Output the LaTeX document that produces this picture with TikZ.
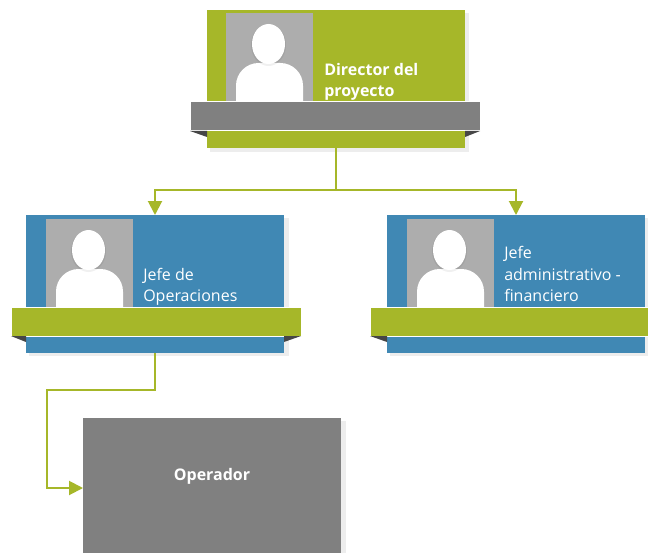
\documentclass[tikz,border=0pt]{standalone}
\usepackage{fontspec}
\setmainfont{Open Sans}
\usetikzlibrary{arrows.meta}
\definecolor{cgreen}{RGB}{166,183,41}
\definecolor{cblue}{RGB}{64,136,180}
\definecolor{cband}{RGB}{128,128,128}
\definecolor{cphoto}{RGB}{173,173,173}
\definecolor{cfold}{RGB}{70,70,70}
\begin{document}
\begin{tikzpicture}[x=0.75pt,y=-0.75pt,
  card/.style={anchor=north west,inner sep=0pt,outer sep=0pt,minimum width=193.5pt,minimum height=103.5pt},
  band/.style={anchor=north west,inner sep=0pt,outer sep=0pt,minimum width=217.5pt,minimum height=21.75pt,draw=white,line width=0.75pt},
  photo/.style={anchor=north west,inner sep=0pt,outer sep=0pt,minimum width=65.25pt,minimum height=67.5pt,fill=cphoto},
  lbl/.style={anchor=south west,inner sep=0pt,align=left,text=white,font=\fontsize{12}{16}\selectfont},
  conn/.style={draw=cgreen,line width=1.5pt,-{Triangle[length=10.5pt,width=10.5pt]}},
  shade/.style={fill=black,opacity=0.07},
  fold/.style={fill=cfold},
  person/.pic={
    \fill[white] (10,92) [rounded corners=17]-- (10,50) -- (77,50) [sharp corners]-- (77,92) -- cycle;
    \fill[black,opacity=0.06] (42.5,32) ellipse (17.5 and 21);
    \fill[white] (42.5,31) ellipse (16.5 and 20);
  }]
\useasboundingbox (0,0) rectangle (648,552);
\clip (0,0) rectangle (648,552);
\fill[white] (0,0) rectangle (648,552);

% ---- Director
\fill[shade] (210,13) rectangle (469,152);
\node[card,fill=cgreen] (dir) at (207,10) {};
\node[photo] (dirph) at (226,13) {};
\pic at (dirph.north west) {person};
\node[lbl,font=\fontsize{12}{16}\selectfont\bfseries] (dirtx) at (324,101) {Director del\\proyecto};
\node[band,fill=cband] (dirband) at (190,102) {};
\fill[fold] (dirband.south west) -- (dir.west |- dirband.south) -- ++(0,6) -- cycle;
\fill[fold] (dirband.south east) -- (dir.east |- dirband.south) -- ++(0,6) -- cycle;

% ---- Jefe de Operaciones
\fill[shade] (29,218) rectangle (289,356);
\node[card,fill=cblue] (jop) at (26,215) {};
\node[photo] (jopph) at (46,219) {};
\pic at (jopph.north west) {person};
\node[lbl] (joptx) at (143,306) {Jefe de\\Operaciones};
\node[band,fill=cgreen] (jopband) at (11,307) {};
\fill[fold] (jopband.south west) -- (jop.west |- jopband.south) -- ++(0,6) -- cycle;
\fill[fold] (jopband.south east) -- (jop.east |- jopband.south) -- ++(0,6) -- cycle;

% ---- Jefe administrativo - financiero
\fill[shade] (390,218) rectangle (649,356);
\node[card,fill=cblue] (jaf) at (387,215) {};
\node[photo] (jafph) at (407,219) {};
\pic at (jafph.north west) {person};
\node[lbl] (jaftx) at (504,302) {Jefe\\administrativo -\\financiero};
\node[band,fill=cgreen] (jafband) at (370,307) {};
\fill[fold] (jafband.south west) -- (jaf.west |- jafband.south) -- ++(0,6) -- cycle;

% ---- Operador
\fill[shade] (87,421) rectangle (346,560);
\node[anchor=north west,inner sep=0pt,outer sep=0pt,minimum width=193.5pt,minimum height=105pt,fill=cband] (op) at (83,418) {};
\node[text=white,font=\fontsize{12}{14}\selectfont\bfseries] (optx) at (212,476) {Operador};

% ---- connectors
\draw[conn] (dir.south) -- ++(0,42) -| (jop.north);
\draw[conn] (dir.south) -- ++(0,42) -| (jaf.north);
\coordinate (bend) at (47,390);
\draw[conn] (jop.south) |- (bend) |- (op.west);
\end{tikzpicture}
\end{document}
